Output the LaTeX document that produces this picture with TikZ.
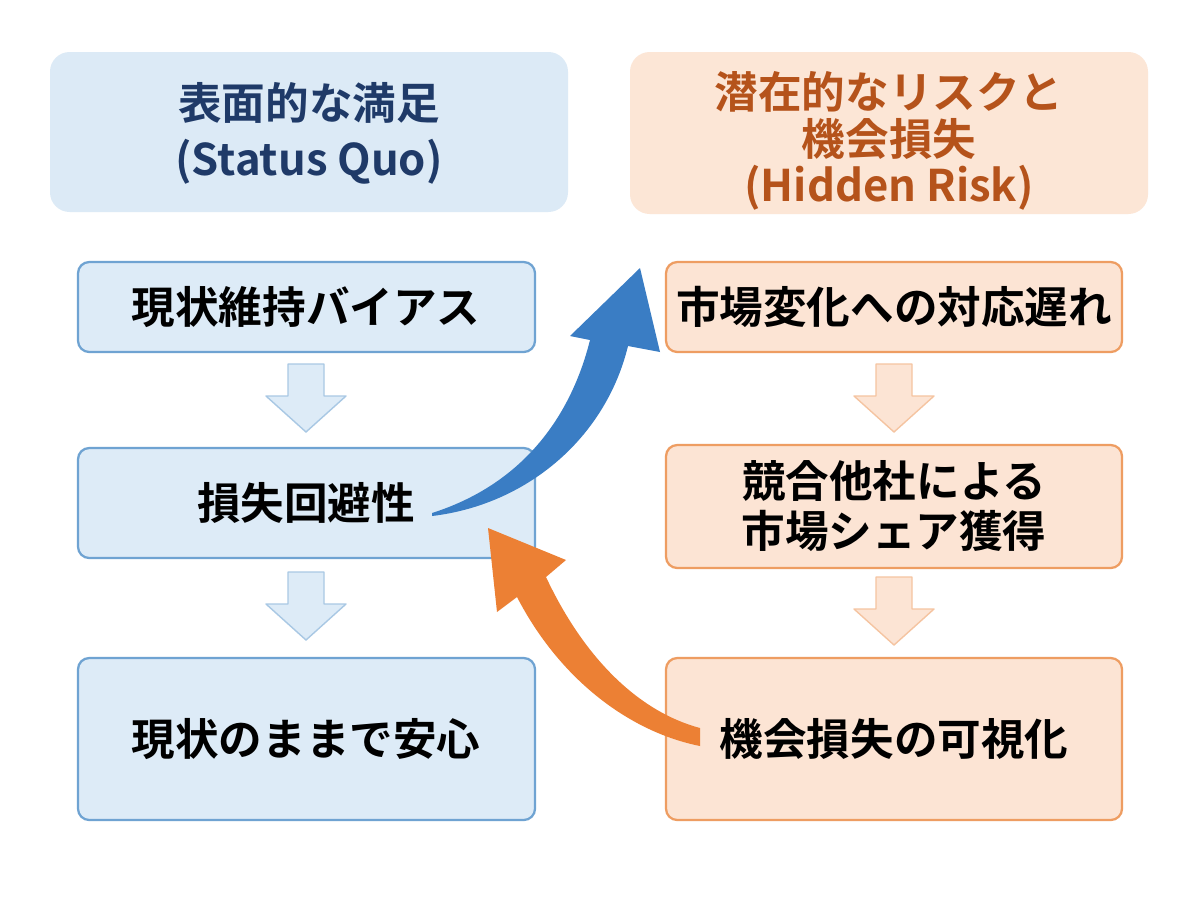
\documentclass[tikz,border=0pt]{standalone}
\usepackage{fontspec}
\setmainfont{Noto Sans CJK JP Bold}
\begin{document}
\begin{tikzpicture}[x=0.025cm,y=-0.025cm,
 boxL/.style={draw=bL,fill=fL,line width=1.6pt,rounded corners=8pt},
 boxR/.style={draw=bR,fill=fR,line width=1.6pt,rounded corners=8pt},
 txt/.style={font=\fontsize{31}{36}\selectfont,align=center,text=black},
 htxt/.style={font=\fontsize{31}{33}\selectfont,align=center}]
\definecolor{hdrLfill}{HTML}{DCEAF6}\definecolor{hdrRfill}{HTML}{FCE6D6}
\definecolor{bL}{HTML}{6FA3D2}\definecolor{fL}{HTML}{DDEBF7}
\definecolor{bR}{HTML}{EE9D62}\definecolor{fR}{HTML}{FCE4D4}
\definecolor{navy}{HTML}{1F3A68}\definecolor{rust}{HTML}{B5531B}
\definecolor{blueA}{HTML}{3A7DC4}\definecolor{orA}{HTML}{EC8034}
\useasboundingbox (0,0) rectangle (1200,896);
\fill[white] (0,0) rectangle (1200,896);
% headers
\fill[hdrLfill,rounded corners=14pt] (50,52) rectangle (568,212);
\node[htxt,text=navy,font=\fontsize{31}{40}\selectfont] (hl) at (309,133) {表面的な満足\\(Status Quo)};
\fill[hdrRfill,rounded corners=14pt] (630,52) rectangle (1148,214);
\node[htxt,text=rust] (hr) at (889,141) {潜在的なリスクと\\機会損失\\(Hidden Risk)};
% boxes
\draw[boxL] (78,262) rectangle (535,352); \node[txt] (l1) at (306,307) {現状維持バイアス};
\draw[boxL] (78,448) rectangle (535,558); \node[txt] (l2) at (306,503) {損失回避性};
\draw[boxL] (78,658) rectangle (535,820); \node[txt] (l3) at (306,739) {現状のままで安心};
\draw[boxR] (666,262) rectangle (1122,352); \node[txt] (r1) at (894,307) {市場変化への対応遅れ};
\draw[boxR] (666,445) rectangle (1122,568); \node[txt] (r2) at (894,506) {競合他社による\\市場シェア獲得};
\draw[boxR] (666,658) rectangle (1122,820); \node[txt] (r3) at (894,739) {機会損失の可視化};
% small down arrows
\foreach \cx/\ya/\col/\bc in {306/364/fL/bL,306/572/fL/bL,894/364/fR/bR,894/577/fR/bR}{
 \draw[fill=\col,draw=\bc!60,line width=1pt,line join=round]
 (\cx-18,\ya) -- (\cx+18,\ya) -- (\cx+18,\ya+32) -- (\cx+40,\ya+32) -- (\cx,\ya+68)
 -- (\cx-40,\ya+32) -- (\cx-18,\ya+32) -- cycle;}
% blue curved arrow
\fill[blueA] (432,513) .. controls (520,485) and (570,420) .. (590,340)
 -- (570,336) -- (640,268) -- (660,352) -- (628,346)
 .. controls (605,440) and (525,505) .. (432,516) -- cycle;
% orange curved arrow
\fill[orA] (700,746) .. controls (630,732) and (560,680) .. (517,597)
 -- (497,612) -- (488,528) -- (566,560) -- (546,577)
 .. controls (585,660) and (640,712) .. (700,728) -- cycle;
\end{tikzpicture}
\end{document}
